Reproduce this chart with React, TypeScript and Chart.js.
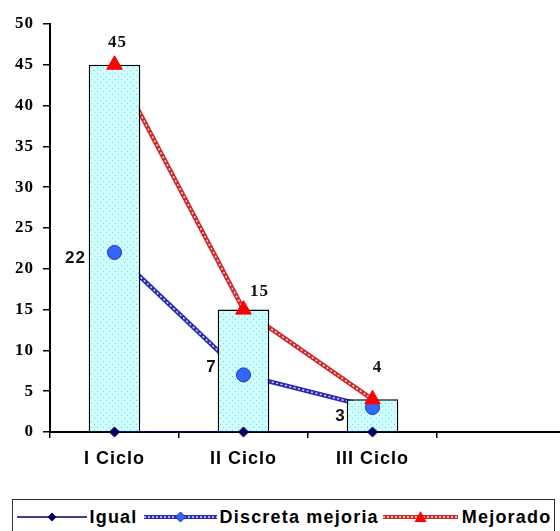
import React, { useEffect, useRef } from 'react';
import { Chart, registerables } from 'chart.js';

Chart.register(...registerables);

// ---- data ----
const categories = ['I Ciclo', 'II Ciclo', 'III Ciclo', ''];
const totalBars = [45, 15, 4, null];
const igual = [0, 0, 0, null];
const discreta = [22, 7, 3, null];
const mejorado = [45, 15, 4, null];
const yMin = 0;
const yMax = 50;
const yStep = 5;
const legendNames = ['Igual', 'Discreta mejoria', 'Mejorado'];

// label placement offsets (style only)
const mejoradoLabelOffsets = [[3, -22], [16, -18], [5, -32], [0, 0]];
const discretaLabelOffsets = [[-39, 6], [-32, -8], [-32, 9], [0, 0]];

const NAVY = '#000066';
const BLUE_LINE = '#2b2bb0';
const BLUE_PT = '#3366ff';
const RED_LINE = '#cc2a2a';
const RED_PT = '#ff0000';

function makePattern(): CanvasPattern | string {
  const c = document.createElement('canvas');
  c.width = 6;
  c.height = 6;
  const g = c.getContext('2d');
  if (!g) return '#ccffff';
  g.fillStyle = '#ccffff';
  g.fillRect(0, 0, 6, 6);
  g.fillStyle = '#9cc8c8';
  g.fillRect(1, 1, 1, 1);
  g.fillRect(4, 4, 1, 1);
  return g.createPattern(c, 'repeat') || '#ccffff';
}

const valueLabels = {
  id: 'valueLabels',
  afterDatasetsDraw(chart: any) {
    const ctx = chart.ctx;
    chart.data.datasets.forEach((ds: any, i: number) => {
      const cfg = ds.valueLabel;
      if (!cfg) return;
      const meta = chart.getDatasetMeta(i);
      meta.data.forEach((el: any, j: number) => {
        const v = ds.data[j];
        if (v == null) return;
        const off = cfg.offsets[j] || [0, 0];
        ctx.save();
        ctx.font = cfg.font;
        ctx.fillStyle = cfg.color;
        ctx.textAlign = 'center';
        ctx.textBaseline = 'middle';
        ctx.fillText(String(v), el.x + off[0], el.y + off[1]);
        ctx.restore();
      });
    });
  },
};

const spacing = {
  id: 'spacing',
  beforeDraw(chart: any) {
    chart.ctx.letterSpacing = '1px';
  },
  afterDraw(chart: any) {
    chart.ctx.letterSpacing = '0px';
  },
};

function Swatch({ kind }: { kind: 'igual' | 'discreta' | 'mejorado' }) {
  const w = kind === 'igual' ? 70 : kind === 'discreta' ? 73 : 75;
  const cy = 8;
  const cx = w / 2;
  return (
    <svg width={w} height={16} style={{ display: 'block' }}>
      {kind === 'igual' && (
        <>
          <line x1={0} y1={cy} x2={w} y2={cy} stroke={NAVY} strokeWidth={1.5} />
          <polygon points={`${cx},${cy - 4.5} ${cx + 4.5},${cy} ${cx},${cy + 4.5} ${cx - 4.5},${cy}`} fill={NAVY} />
        </>
      )}
      {kind === 'discreta' && (
        <>
          <line x1={0} y1={cy} x2={w} y2={cy} stroke={BLUE_LINE} strokeWidth={4} />
          <line x1={0} y1={cy} x2={w} y2={cy} stroke="#dcdcff" strokeWidth={1.4} strokeDasharray="2 2" />
          <polygon points={`${cx},${cy - 5} ${cx + 5},${cy} ${cx},${cy + 5} ${cx - 5},${cy}`} fill={BLUE_PT} stroke="#1a2ea0" strokeWidth={1} />
        </>
      )}
      {kind === 'mejorado' && (
        <>
          <line x1={0} y1={cy} x2={w} y2={cy} stroke={RED_LINE} strokeWidth={4} />
          <line x1={0} y1={cy} x2={w} y2={cy} stroke="#ffdede" strokeWidth={1.4} strokeDasharray="2 2" />
          <polygon points={`${cx},${cy - 6} ${cx + 6},${cy + 5} ${cx - 6},${cy + 5}`} fill={RED_PT} />
        </>
      )}
    </svg>
  );
}

export default function App() {
  const ref = useRef<HTMLCanvasElement | null>(null);

  useEffect(() => {
    if (!ref.current) return;
    const pattern = makePattern();
    const chart = new Chart(ref.current, {
      type: 'bar',
      data: {
        labels: categories,
        datasets: [
          // lines (behind bars)
          { type: 'line', label: 'l-igual', data: igual, borderColor: NAVY, borderWidth: 2, pointRadius: 0, order: 6, tension: 0 } as any,
          { type: 'line', label: 'l-discreta', data: discreta, borderColor: BLUE_LINE, borderWidth: 4.5, pointRadius: 0, order: 6, tension: 0 } as any,
          { type: 'line', label: 'l-discreta-o', data: discreta, borderColor: '#d6d6ff', borderWidth: 1.5, borderDash: [2, 2.5], pointRadius: 0, order: 5, tension: 0 } as any,
          { type: 'line', label: 'l-mejorado', data: mejorado, borderColor: RED_LINE, borderWidth: 4.5, pointRadius: 0, order: 6, tension: 0 } as any,
          { type: 'line', label: 'l-mejorado-o', data: mejorado, borderColor: '#ffd8d8', borderWidth: 1.5, borderDash: [2, 2.5], pointRadius: 0, order: 5, tension: 0 } as any,
          // bars
          {
            type: 'bar',
            label: 'Total',
            data: totalBars,
            backgroundColor: pattern as any,
            borderColor: '#000000',
            borderWidth: 1.5,
            barPercentage: 0.4,
            categoryPercentage: 1,
            order: 3,
          } as any,
          // points (on top)
          {
            type: 'line', label: legendNames[0], data: igual, showLine: false, pointStyle: 'rectRot',
            pointRadius: 5, pointBackgroundColor: NAVY, pointBorderColor: NAVY, pointBorderWidth: 1, order: 1, clip: false,
          } as any,
          {
            type: 'line', label: legendNames[1], data: discreta, showLine: false, pointStyle: 'circle',
            pointRadius: 7, pointBackgroundColor: BLUE_PT, pointBorderColor: '#1a3aa8', pointBorderWidth: 1, order: 1, clip: false,
            valueLabel: { offsets: discretaLabelOffsets, font: 'bold 17px "Liberation Sans", Arial, sans-serif', color: '#111' },
          } as any,
          {
            type: 'line', label: legendNames[2], data: mejorado, showLine: false, pointStyle: 'triangle',
            pointRadius: 9, pointBackgroundColor: RED_PT, pointBorderColor: RED_PT, pointBorderWidth: 1, order: 0, clip: false,
            valueLabel: { offsets: mejoradoLabelOffsets, font: 'bold 17px "Liberation Serif", "Times New Roman", serif', color: '#111' },
          } as any,
        ],
      },
      options: {
        responsive: false,
        animation: false,
        layout: { padding: { top: 24, right: 0, left: 0, bottom: 0 } },
        plugins: { legend: { display: false }, tooltip: { enabled: false } },
        scales: {
          x: {
            type: 'category',
            offset: true,
            grid: { offset: true, drawOnChartArea: false, drawTicks: true, tickLength: 6, color: '#000', lineWidth: 1.5 },
            border: { display: true, color: '#000', width: 2 },
            ticks: {
              color: '#000',
              padding: 10,
              maxRotation: 0,
              autoSkip: false,
              font: { family: '"Liberation Sans", Arial, sans-serif', weight: 'bold', size: 18 },
            },
            afterFit: (s: any) => { s.height = 63; },
          },
          y: {
            min: yMin,
            max: yMax,
            grid: { drawOnChartArea: false, drawTicks: true, tickLength: 7, color: '#000', lineWidth: 1.5 },
            border: { display: true, color: '#000', width: 2 },
            ticks: {
              stepSize: yStep,
              color: '#000',
              padding: 9,
              font: { family: '"Liberation Serif", "Times New Roman", serif', weight: 'bold', size: 17 },
            },
            afterFit: (s: any) => { s.width = 50; },
          },
        },
      } as any,
      plugins: [valueLabels, spacing],
    });
    return () => chart.destroy();
  }, []);

  const textStyle: React.CSSProperties = {
    fontFamily: '"Liberation Sans", Arial, sans-serif',
    fontWeight: 'bold',
    fontSize: 18,
    letterSpacing: '1.2px',
    color: '#000',
    whiteSpace: 'nowrap',
    lineHeight: '20px',
  };

  return (
    <div style={{ position: 'absolute', left: 0, top: 0, width: 560, height: 531, overflow: 'hidden', background: '#fff' }}>
      <canvas ref={ref} width={576} height={495} style={{ display: 'block', width: 576, height: 495 }} />
      <div
        style={{
          position: 'absolute', left: 12, top: 499, width: 543, height: 40, boxSizing: 'border-box',
          border: '1.5px solid #333', background: '#fff',
        }}
      >
        <div style={{ display: 'flex', alignItems: 'center', height: 34, paddingLeft: 3.5 }}>
          <Swatch kind="igual" />
          <span style={{ ...textStyle, marginLeft: 3 }}>{legendNames[0]}</span>
          <span style={{ marginLeft: 6 }}><Swatch kind="discreta" /></span>
          <span style={{ ...textStyle, marginLeft: 3 }}>{legendNames[1]}</span>
          <span style={{ marginLeft: 4 }}><Swatch kind="mejorado" /></span>
          <span style={{ ...textStyle, marginLeft: 4 }}>{legendNames[2]}</span>
        </div>
      </div>
    </div>
  );
}
